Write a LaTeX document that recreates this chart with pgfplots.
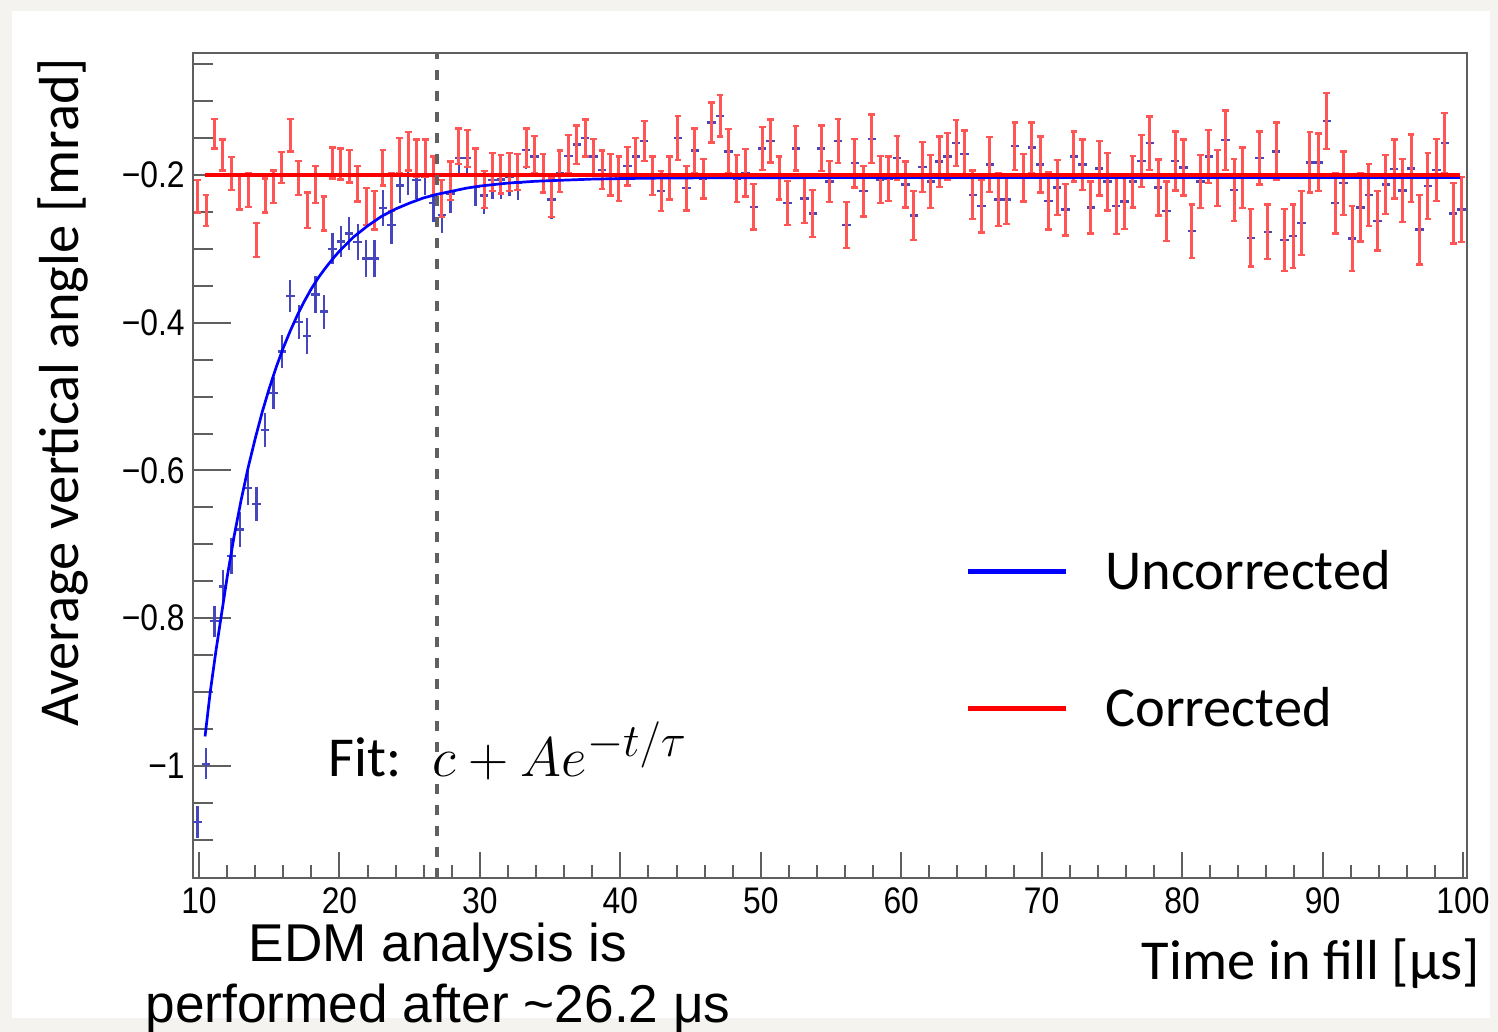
\documentclass[border=0pt]{standalone}
\usepackage{fontspec}
\usepackage{pgfplots}
\pgfplotsset{compat=1.18}
\usepackage{pgfplotstable}
\setmainfont{Carlito}
\newfontfamily\rootfont[FakeStretch=0.86]{Liberation Sans}
\newfontfamily\arialfont{Liberation Sans}
\definecolor{bgout}{RGB}{244,243,239}
\definecolor{framegray}{RGB}{95,95,95}
\definecolor{bluepts}{RGB}{70,70,190}
\definecolor{redbar}{RGB}{255,85,85}
\definecolor{fitblue}{RGB}{0,0,255}
\definecolor{fitred}{RGB}{255,0,0}
\definecolor{dashgray}{RGB}{96,96,96}

\pgfplotstableread{
t b eb r er
9.9 -1.076 0.022 -0.229 0.022
10.5 -0.997 0.021 -0.248 0.021
11.1 -0.804 0.021 -0.144 0.020
11.7 -0.757 0.022 -0.173 0.021
12.3 -0.716 0.024 -0.198 0.022
12.9 -0.680 0.024 -0.223 0.024
13.5 -0.624 0.023 -0.220 0.023
14.1 -0.645 0.023 -0.288 0.023
14.7 -0.545 0.023 -0.228 0.023
15.3 -0.495 0.022 -0.216 0.022
15.9 -0.439 0.022 -0.190 0.021
16.5 -0.364 0.022 -0.146 0.022
17.1 -0.399 0.023 -0.204 0.023
17.7 -0.418 0.024 -0.248 0.024
18.3 -0.362 0.025 -0.213 0.025
18.9 -0.385 0.023 -0.252 0.023
19.5 -0.300 0.021 -0.184 0.021
20.1 -0.290 0.021 -0.185 0.021
20.7 -0.279 0.022 -0.188 0.022
21.3 -0.291 0.024 -0.212 0.024
21.9 -0.313 0.025 -0.243 0.025
22.5 -0.313 0.025 -0.248 0.026
23.1 -0.245 0.024 -0.190 0.024
23.7 -0.268 0.026 -0.223 0.026
24.3 -0.214 0.024 -0.174 0.024
24.9 -0.201 0.026 -0.168 0.026
25.5 -0.207 0.025 -0.177 0.025
26.1 -0.202 0.025 -0.177 0.025
26.7 -0.238 0.026 -0.201 0.026
27.3 -0.254 0.025 -0.232 0.025
27.9 -0.225 0.026 -0.208 0.026
28.5 -0.177 0.024 -0.161 0.024
29.1 -0.177 0.025 -0.164 0.025
29.7 -0.216 0.026 -0.190 0.026
30.3 -0.228 0.025 -0.220 0.025
30.9 -0.207 0.026 -0.196 0.026
31.5 -0.206 0.026 -0.199 0.026
32.1 -0.202 0.026 -0.196 0.026
32.7 -0.210 0.024 -0.196 0.024
33.3 -0.166 0.026 -0.163 0.026
33.9 -0.175 0.025 -0.172 0.025
34.5 -0.200 0.026 -0.198 0.026
35.1 -0.233 0.026 -0.231 0.026
35.7 -0.197 0.028 -0.195 0.028
36.3 -0.174 0.026 -0.172 0.026
36.9 -0.159 0.026 -0.159 0.026
37.5 -0.150 0.025 -0.150 0.025
38.1 -0.175 0.024 -0.175 0.024
38.7 -0.193 0.026 -0.193 0.026
39.3 -0.200 0.028 -0.200 0.028
39.9 -0.205 0.030 -0.205 0.030
40.5 -0.188 0.026 -0.188 0.026
41.1 -0.175 0.025 -0.175 0.025
41.7 -0.154 0.027 -0.154 0.027
42.3 -0.201 0.026 -0.201 0.026
42.9 -0.222 0.027 -0.222 0.027
43.5 -0.204 0.029 -0.204 0.029
44.1 -0.150 0.030 -0.150 0.030
44.7 -0.218 0.030 -0.218 0.030
45.3 -0.167 0.030 -0.167 0.030
45.9 -0.205 0.027 -0.205 0.027
46.5 -0.129 0.027 -0.129 0.027
47.1 -0.120 0.028 -0.120 0.028
47.7 -0.168 0.030 -0.168 0.030
48.3 -0.205 0.032 -0.205 0.032
48.9 -0.197 0.032 -0.197 0.032
49.5 -0.243 0.031 -0.243 0.031
50.1 -0.164 0.029 -0.164 0.029
50.7 -0.154 0.029 -0.154 0.029
51.3 -0.204 0.029 -0.204 0.029
51.9 -0.238 0.030 -0.238 0.030
52.5 -0.164 0.030 -0.164 0.030
53.1 -0.232 0.033 -0.232 0.033
53.7 -0.252 0.032 -0.252 0.032
54.3 -0.164 0.031 -0.164 0.031
54.9 -0.209 0.028 -0.209 0.028
55.5 -0.154 0.030 -0.154 0.030
56.1 -0.268 0.031 -0.268 0.031
56.7 -0.184 0.033 -0.184 0.033
57.3 -0.222 0.034 -0.222 0.034
57.9 -0.151 0.033 -0.151 0.033
58.5 -0.206 0.032 -0.206 0.032
59.1 -0.205 0.030 -0.205 0.030
59.7 -0.177 0.030 -0.177 0.030
60.3 -0.213 0.031 -0.213 0.031
60.9 -0.255 0.033 -0.255 0.033
61.5 -0.189 0.034 -0.189 0.034
62.1 -0.209 0.036 -0.209 0.036
62.7 -0.182 0.034 -0.182 0.034
63.3 -0.175 0.032 -0.175 0.032
63.9 -0.157 0.031 -0.157 0.031
64.5 -0.172 0.032 -0.172 0.032
65.1 -0.227 0.033 -0.227 0.033
65.7 -0.242 0.036 -0.242 0.036
66.3 -0.186 0.037 -0.186 0.037
66.9 -0.233 0.036 -0.233 0.036
67.5 -0.233 0.033 -0.233 0.033
68.1 -0.161 0.032 -0.161 0.032
68.7 -0.204 0.032 -0.204 0.032
69.3 -0.163 0.034 -0.163 0.034
69.9 -0.186 0.038 -0.186 0.038
70.5 -0.235 0.039 -0.235 0.039
71.1 -0.217 0.037 -0.217 0.037
71.7 -0.247 0.035 -0.247 0.035
72.3 -0.175 0.034 -0.175 0.034
72.9 -0.186 0.034 -0.186 0.034
73.5 -0.244 0.035 -0.244 0.035
74.1 -0.191 0.037 -0.191 0.037
74.7 -0.209 0.039 -0.209 0.039
75.3 -0.242 0.038 -0.242 0.038
75.9 -0.236 0.037 -0.236 0.037
76.5 -0.209 0.035 -0.209 0.035
77.1 -0.181 0.035 -0.181 0.035
77.7 -0.157 0.036 -0.157 0.036
78.3 -0.217 0.038 -0.217 0.038
78.9 -0.249 0.040 -0.249 0.040
79.5 -0.181 0.040 -0.181 0.040
80.1 -0.190 0.038 -0.190 0.038
80.7 -0.276 0.036 -0.276 0.036
81.3 -0.209 0.036 -0.209 0.036
81.9 -0.175 0.036 -0.175 0.036
82.5 -0.204 0.038 -0.204 0.038
83.1 -0.153 0.040 -0.153 0.040
83.7 -0.220 0.042 -0.220 0.042
84.3 -0.204 0.041 -0.204 0.041
84.9 -0.285 0.039 -0.285 0.039
85.5 -0.177 0.036 -0.177 0.036
86.1 -0.277 0.037 -0.277 0.037
86.7 -0.168 0.039 -0.168 0.039
87.3 -0.288 0.042 -0.288 0.042
87.9 -0.283 0.043 -0.283 0.043
88.5 -0.265 0.043 -0.265 0.043
89.1 -0.183 0.041 -0.183 0.041
89.7 -0.183 0.039 -0.183 0.039
90.3 -0.127 0.038 -0.127 0.038
90.9 -0.238 0.041 -0.238 0.041
91.5 -0.211 0.043 -0.211 0.043
92.1 -0.286 0.044 -0.286 0.044
92.7 -0.244 0.046 -0.244 0.046
93.3 -0.227 0.042 -0.227 0.042
93.9 -0.262 0.040 -0.262 0.040
94.5 -0.213 0.040 -0.213 0.040
95.1 -0.192 0.040 -0.192 0.040
95.7 -0.221 0.043 -0.221 0.043
96.3 -0.191 0.046 -0.191 0.046
96.9 -0.274 0.047 -0.274 0.047
97.5 -0.215 0.045 -0.215 0.045
98.1 -0.193 0.042 -0.193 0.042
98.7 -0.157 0.041 -0.157 0.041
99.3 -0.252 0.041 -0.252 0.041
99.9 -0.247 0.044 -0.247 0.044
}\data

\begin{document}
\begin{tikzpicture}
\useasboundingbox (0,0) rectangle (749pt,516pt);
\fill[bgout] (0,0) rectangle (749pt,516pt);
\fill[white] (6pt,7pt) rectangle (745pt,510.5pt);

% y ticks axis
\begin{axis}[at={(96.5pt,77pt)}, anchor=south west, scale only axis,
  width=637pt, height=412.5pt,
  xmin=9.573, xmax=100.285, ymin=-1.1516, ymax=-0.0349,
  hide x axis,
  axis line style={framegray, line width=1pt},
  tick style={framegray, line width=1pt},
  tick align=inside, tick pos=left,
  ytick={-1,-0.8,-0.6,-0.4,-0.2},
  yticklabels={−1,−0.8,−0.6,−0.4,−0.2},
  minor ytick={-1.1,-1.05,-0.95,-0.9,-0.85,-0.75,-0.7,-0.65,-0.55,-0.5,-0.45,-0.35,-0.3,-0.25,-0.15,-0.1,-0.05},
  major tick length=19pt, minor tick length=10pt,
  yticklabel style={font=\rootfont\fontsize{18.5}{20}\selectfont, anchor=east, inner sep=0pt, xshift=-4pt},
]
\addplot[draw=none, mark=none] coordinates {(50,-0.5)};
\end{axis}

% main axis
\begin{axis}[at={(96.5pt,77pt)}, anchor=south west, scale only axis,
  width=637pt, height=412.5pt,
  xmin=9.573, xmax=100.285, ymin=-1.1516, ymax=-0.0349,
  axis line style={framegray, line width=1pt},
  tick style={framegray, line width=1pt},
  tick align=inside, tick pos=left,
  ytick=\empty,
  xtick={10,20,30,40,50,60,70,80,90,100},
  xticklabels={10,20,30,40,50,60,70,80,90,100},
  minor x tick num=4,
  major tick length=13pt, minor tick length=6.5pt,
  xticklabel style={font=\rootfont\fontsize{18.5}{20}\selectfont, anchor=north, inner sep=0pt, yshift=-4.5pt},
]
\addplot[draw=none, mark=none,
  error bars/.cd, x dir=both, x fixed=0.3, y dir=both, y explicit,
  error mark=none, error bar style={line width=1.2pt, draw=bluepts}]
  table[x=t, y=b, y error=eb]{\data};
\addplot[draw=none, mark=none,
  error bars/.cd, y dir=both, y explicit,
  error mark=-, error mark options={rotate=90, draw=redbar, line width=1.2pt, mark size=1.7pt},
  error bar style={line width=1.5pt, draw=redbar}]
  table[x=t, y=r, y error=er]{\data};
\addplot[fitblue, line width=1.35pt] coordinates {
(10.43,-0.960) (10.8,-0.900) (11.2,-0.845) (11.6,-0.795) (12.0,-0.745)
(12.5,-0.689) (13.0,-0.640) (13.5,-0.596) (14.0,-0.557) (14.5,-0.521)
(15.0,-0.489) (15.5,-0.460) (16.0,-0.434) (16.5,-0.411) (17.0,-0.390)
(17.5,-0.371) (18.0,-0.354) (18.5,-0.339) (19.0,-0.326) (19.5,-0.314)
(20.0,-0.303) (21.0,-0.284) (22.0,-0.269) (23.0,-0.256) (24.0,-0.246)
(25.0,-0.238) (26.0,-0.231) (27.0,-0.226) (28.0,-0.222) (29.0,-0.218)
(30.0,-0.215) (32.0,-0.211) (34.0,-0.2085) (36.0,-0.207) (38.0,-0.2056)
(40.0,-0.2049) (43.0,-0.2042) (46.0,-0.2039) (50.0,-0.2037) (60.0,-0.2035)
(99.8,-0.2035)};
\addplot[fitred, line width=1.6pt] coordinates {(10.43,-0.2) (99.8,-0.2)};
\addplot[dashgray, line width=2pt, dash pattern=on 5pt off 5.5pt]
  coordinates {(26.97,-1.1516) (26.97,-0.0349)};
\end{axis}

% labels
\node[rotate=90, anchor=base, inner sep=0pt, font=\fontsize{28.2}{34}\selectfont]
  at (39pt,319.75pt) {Average vertical angle [mrad]};
\node[anchor=base east, inner sep=0pt, font=\fontsize{28.2}{34}\selectfont]
  at (740pt,26pt) {Time in fill [μs]};
% legend
\draw[fitblue, line width=2.5pt] (484pt,230pt) -- (533pt,230pt);
\draw[fitred, line width=2.5pt] (484pt,161.5pt) -- (533pt,161.5pt);
\node[anchor=base west, inner sep=0pt, font=\fontsize{28.2}{34}\selectfont]
  at (552.5pt,221pt) {Uncorrected};
\node[anchor=base west, inner sep=0pt, font=\fontsize{28.2}{34}\selectfont]
  at (552.5pt,152.5pt) {Corrected};
% fit text
\node[anchor=base west, inner sep=0pt, font=\fontsize{28.2}{34}\selectfont]
  at (164pt,127.5pt) {Fit:};
\node[anchor=base west, inner sep=0pt, scale=1.12, font=\fontsize{24.88}{30}\selectfont]
  at (216pt,127.5pt) {$c + Ae^{-t/\tau}$};
% EDM note
\node[anchor=base, inner sep=0pt, font=\arialfont\fontsize{26.6}{30}\selectfont]
  at (219pt,35pt) {EDM analysis is};
\node[anchor=base, inner sep=0pt, font=\arialfont\fontsize{26.6}{30}\selectfont]
  at (219pt,4.5pt) {performed after \textasciitilde26.2 μs};
\end{tikzpicture}
\end{document}
